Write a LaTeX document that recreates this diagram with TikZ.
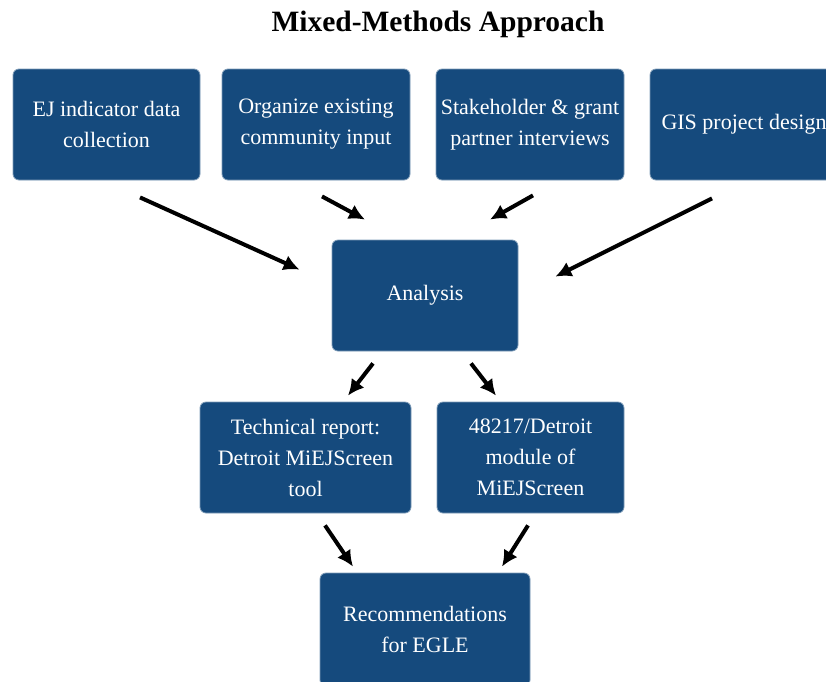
\documentclass[tikz,border=0pt]{standalone}
\usepackage{fontspec}
\setmainfont{Liberation Serif}
\usepackage{tikz}
\usetikzlibrary{arrows.meta}
\definecolor{ejblue}{RGB}{21,74,125}

\begin{document}
\begin{tikzpicture}[x=1pt,y=1pt,
  stagebox/.style={rectangle, rounded corners=6pt, fill=ejblue, draw=ejblue!55, line width=0.8pt,
    text=white, align=center, minimum height=111pt, inner sep=2pt,
    font=\rmfamily\fontsize{22}{31}\selectfont},
  flowarrow/.style={line width=4pt, -{Latex[length=16pt,width=16pt]}}]
\useasboundingbox (0,0) rectangle (826,-681);
\clip (0,0) rectangle (826,-681);

% Title
\node (title) at (438,-24) {\rmfamily\fontsize{29.5}{34}\selectfont\bfseries Mixed-Methods Approach};

%Shape: top row
\node[stagebox, minimum width=187pt] (ejdata) at (106.5,-124.5) {EJ indicator data\\collection};
\node[stagebox, minimum width=188pt] (commin) at (316,-124.5) {Organize existing\\community input};
\node[stagebox, minimum width=188pt] (interv) at (530,-124.5) {Stakeholder \& grant\\partner interviews};
\node[stagebox, minimum width=188pt] (gisdes) at (744,-124.5) {GIS project design};

%Shape: middle
\node[stagebox, minimum width=186pt] (analys) at (425,-295.5) {Analysis};

%Shape: outputs
\node[stagebox, minimum width=211pt] (techrep) at (305.5,-457.5) {Technical report:\\Detroit MiEJScreen\\tool};
\node[stagebox, minimum width=187pt] (module) at (530.5,-457.5) {48217/Detroit\\module of\\MiEJScreen};
\node[stagebox, minimum width=210pt, minimum height=113pt] (recomm) at (425,-629.5) {Recommendations\\for EGLE};

%Straight Lines: into analysis
\draw[flowarrow] ([shift={(33.5,-17)}]ejdata.south) -- ([shift={(-32,-30)}]analys.north west);
\draw[flowarrow] ([shift={(6,-16)}]commin.south) -- ([shift={(-60,20)}]analys.north);
\draw[flowarrow] ([shift={(3,-15)}]interv.south) -- ([shift={(65,20)}]analys.north);
\draw[flowarrow] ([shift={(-32,-18)}]gisdes.south) -- ([shift={(37,-37)}]analys.north east);

%Straight Lines: out of analysis
\draw[flowarrow] ([shift={(-52,-12)}]analys.south) -- ([shift={(42.5,6)}]techrep.north);
\draw[flowarrow] ([shift={(46,-12)}]analys.south) -- ([shift={(-34.5,6)}]module.north);

%Straight Lines: into recommendations
\draw[flowarrow] ([shift={(19.5,-12)}]techrep.south) -- ([shift={(-72,6)}]recomm.north);
\draw[flowarrow] ([shift={(-2.5,-12)}]module.south) -- ([shift={(77,6)}]recomm.north);
\end{tikzpicture}
\end{document}
